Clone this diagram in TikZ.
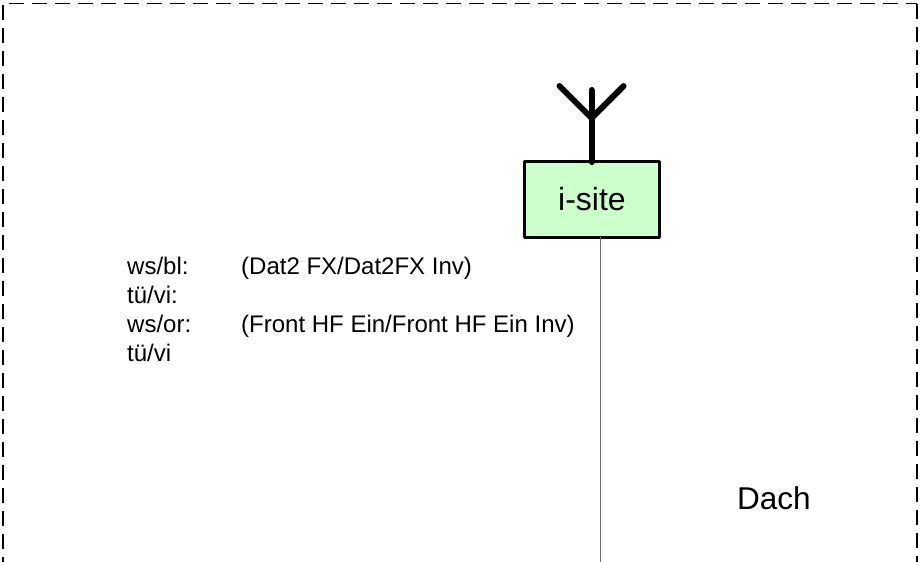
\documentclass[tikz,border=0pt]{standalone}
\usepackage{fontspec}
\setmainfont{Liberation Sans}
\tikzset{
  frame/.style={draw=black,line width=1.5pt,dash pattern=on 15pt off 8pt},
  sitebox/.style={draw=black,line width=3pt,fill=siteGreen,line join=round,minimum width=135pt,minimum height=76pt,inner sep=0pt,font=\fontsize{32}{32}\selectfont},
  ant/.style={draw=black,line width=6pt,line cap=round},
  wire/.style={draw=wireGray,line width=1pt},
  lab/.style={anchor=base west,inner sep=0pt,font=\fontsize{24}{24}\selectfont},
  big/.style={anchor=base west,inner sep=0pt,font=\fontsize{31.5}{31.5}\selectfont}
}
\definecolor{siteGreen}{RGB}{204,255,204}
\definecolor{wireGray}{RGB}{110,110,110}
\begin{document}
\begin{tikzpicture}[x=1pt,y=-1pt]
\useasboundingbox (0,0) rectangle (921,562);
\coordinate (tl) at (9,3.5);
\coordinate (tr) at (917,3.5);
\coordinate (bl) at (3,562);
\coordinate (tl2) at (3,5);
\coordinate (br) at (917,562);
\draw[frame] (tl) -- (tr);
\draw[frame] (tl2) -- (bl);
\draw[frame] (917,4) -- (br);
\node[sitebox] (site) at (592,199) {i-site};
\coordinate (mastTop) at (591.5,90);
\coordinate (fork) at (591.5,118);
\coordinate (armL) at (559.5,86);
\coordinate (armR) at (623.5,86);
\coordinate (mastBot) at (591.5,162);
\coordinate (wireTop) at (600,237);
\coordinate (wireEnd) at (600,562);
\draw[ant] (mastTop) -- (mastBot);
\draw[ant] (armL) -- (fork) -- (armR);
\draw[wire] (wireTop) -- (wireEnd);
\node[lab] (a1) at (127,274) {ws/bl:};
\node[lab] (b1) at (241,274) {(Dat2 FX/Dat2FX Inv)};
\node[lab] (a2) at (127,303) {tü/vi:};
\node[lab] (a3) at (127,332) {ws/or:};
\node[lab] (b3) at (241,332) {(Front HF Ein/Front HF Ein Inv)};
\node[lab] (a4) at (127,361) {tü/vi};
\node[big] (dach) at (737,509) {Dach};
\end{tikzpicture}
\end{document}
